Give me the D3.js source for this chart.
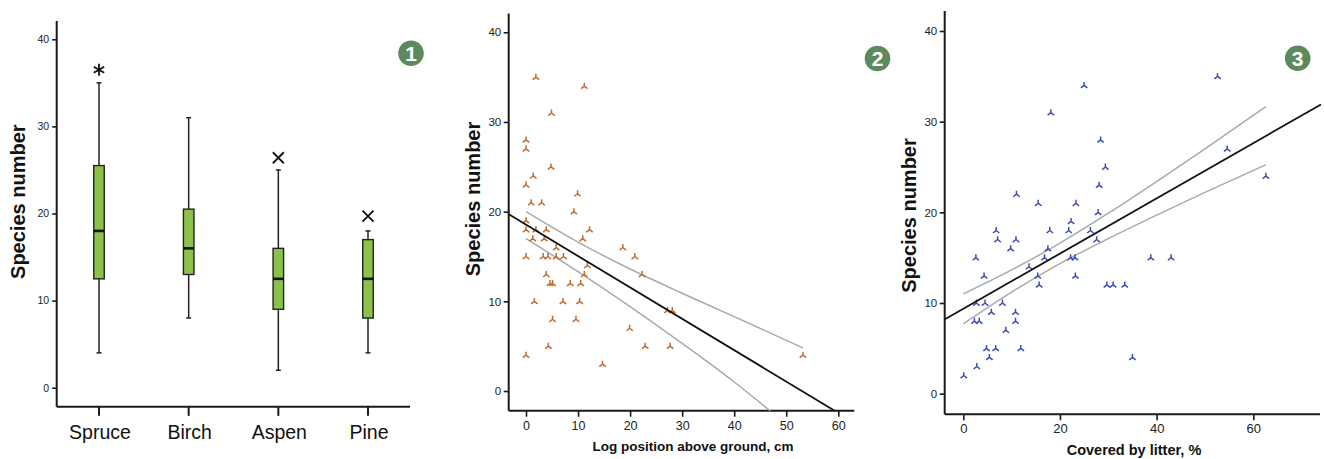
<!DOCTYPE html>
<html>
<head>
<meta charset="utf-8">
<script src="https://cdn.jsdelivr.net/npm/d3@7"></script>
<style>
  html, body { margin: 0; padding: 0; background: #fff; }
  svg { display: block; }
  text { font-family: "Liberation Sans", Arial, sans-serif; }
</style>
</head>
<body>
<svg id="chart" width="1324" height="459"></svg>
<script>
// ---------- DATA ----------
// Panel 1: box plots
const categories = ["Spruce", "Birch", "Aspen", "Pine"];
const whiskerLow  = [4, 8, 2, 4];
const q1          = [12.5, 13, 9, 8];
const median      = [18, 16, 12.5, 12.5];
const q3          = [25.5, 20.5, 16, 17];
const whiskerHigh = [35, 31, 25, 18];
const outlierCat  = ["Spruce", "Aspen", "Pine"];
const outlierVal  = [36.5, 26.4, 19.7];
const outlierType = ["extreme", "outlier", "outlier"];

// Panel 2: log position above ground vs species number
const logPosX = [1.9, 11.2, 4.9, 0, 0, 4.8, 1.4, 0, 9.9, 1.0, 3.0, 9.2, 0, 0, 1.9, 3.9, 12.2, 1.3, 3.5, 10.9,
                 5.8, 18.6, 0, 3.3, 4.2, 5.8, 7.2, 20.9, 11.8, 3.9, 11.2, 22.3, 4.6, 5.1, 8.5, 10.5, 1.6, 7.1, 10.3, 27.2,
                 28.1, 5.1, 9.6, 19.9, 4.3, 22.9, 27.7, 0, 53.2, 14.7];
const logPosY = [35, 34, 31, 28, 27, 25, 24, 23, 22, 21, 21, 20, 19, 18, 18, 18, 18, 17, 17, 17,
                 16, 16, 15, 15, 15, 15, 15, 15, 14, 13, 13, 13, 12, 12, 12, 12, 10, 10, 10, 9,
                 9, 8, 8, 7, 5, 5, 5, 4, 4, 3];
const logPosFit   = [[-3.3, 19.7], [59.3, -2.2]];
const logPosUpper = [[0, 20.0], [10, 16.6], [20, 13.6], [30, 10.9], [40, 8.3], [53.2, 4.8]];
const logPosLower = [[0, 17.0], [10, 13.3], [20, 9.4], [30, 5.3], [40, 1.0], [46.9, -2.2]];

// Panel 3: covered by litter vs species number
const litterX = [52.6, 25.0, 18.1, 28.4, 54.6, 29.4, 62.6, 28.1, 11.0, 15.5, 23.3, 27.9, 22.3, 6.8, 17.9, 21.8, 26.3, 7.1, 10.9, 27.6,
                 9.8, 17.5, 2.6, 16.8, 22.2, 23.1, 38.8, 43.0, 13.6, 4.3, 15.4, 23.2, 15.7, 29.7, 31.0, 33.4, 2.7, 4.5, 8.1, 5.8,
                 10.8, 2.3, 3.3, 10.8, 8.8, 4.8, 6.7, 11.9, 5.4, 35.0, 2.8, 0.1];
const litterY = [35, 34, 31, 28, 27, 25, 24, 23, 22, 21, 21, 20, 19, 18, 18, 18, 18, 17, 17, 17,
                 16, 16, 15, 15, 15, 15, 15, 15, 14, 13, 13, 13, 12, 12, 12, 12, 10, 10, 10, 9,
                 9, 8, 8, 8, 7, 5, 5, 5, 4, 4, 3, 2];
const litterFit   = [[-3.8, 8.2], [74, 31.9]];
const litterUpper = [[0, 11.0], [10, 13.65], [20, 16.6], [30, 19.9], [40, 23.4], [50, 27.0], [62.6, 31.65]];
const litterLower = [[0, 7.7], [10, 11.2], [20, 14.35], [30, 17.1], [40, 19.7], [50, 22.2], [62.6, 25.25]];

// Tick labels
const yTicks = [0, 10, 20, 30, 40];
const xTicks2 = [0, 10, 20, 30, 40, 50, 60];
const xTicks3 = [0, 20, 40, 60];

const yTitle = "Species number";
const xTitle2 = "Log position above ground, cm";
const xTitle3 = "Covered by litter, %";
const badges = ["1", "2", "3"];

// ---------- DRAW ----------
const svg = d3.select("#chart");
const FONT = '"Liberation Sans", Arial, sans-serif';
const AX = "#1a1a1a";
const GREEN = "#8bc34a";
const BADGE = "#5c8a5c";
const ORANGE = "#c46a2a";
const BLUE = "#3a4db5";
const GRAY = "#a9a9a9";

function triPath(s) {
  return `M0,${-s} L0,0.3 M0,0 L${-s * 0.95},${s * 0.75} M0,0 L${s * 0.95},${s * 0.75}`;
}

function yAxis(g, y, xPos, ext, fontSize, tickLen, pad) {
  const ax = d3.axisLeft(y).tickValues(yTicks).tickSize(tickLen).tickPadding(pad).tickFormat(d3.format("d"));
  const gg = g.append("g").attr("transform", `translate(${xPos},0)`).call(ax);
  gg.select(".domain").remove();
  gg.selectAll(".tick line").attr("stroke", AX).attr("stroke-width", 1.6);
  gg.selectAll(".tick text").attr("font-family", FONT).attr("font-size", fontSize).attr("fill", "#222");
  g.append("line").attr("x1", xPos).attr("x2", xPos).attr("y1", y(ext[0])).attr("y2", y(ext[1]))
    .attr("stroke", AX).attr("stroke-width", 2);
}

function badge(cx, cy, label) {
  svg.append("circle").attr("cx", cx).attr("cy", cy).attr("r", 12.8).attr("fill", BADGE);
  svg.append("text").attr("x", cx).attr("y", cy + 7.5).attr("text-anchor", "middle")
    .attr("font-family", '"DejaVu Sans", sans-serif').attr("font-weight", "bold")
    .attr("font-size", 21).attr("fill", "#fff").text(label);
}

function yTitleText(cx, cy) {
  svg.append("text").attr("transform", `translate(${cx},${cy}) rotate(-90)`)
    .attr("text-anchor", "middle").attr("dominant-baseline", "central")
    .attr("font-family", FONT).attr("font-weight", "bold").attr("font-size", 20).attr("fill", "#111")
    .text(yTitle);
}

// ----- Panel 1 -----
{
  const g = svg.append("g");
  const y = d3.scaleLinear().domain([0, 40]).range([387.7, 39.3]);
  const x = d3.scalePoint().domain(categories).range([99, 368]);
  const axisX = 56.7;
  yAxis(g, y, axisX, [-2.2, 42.1], 10.5, 4.5, 3);
  g.append("line").attr("x1", axisX).attr("x2", 410).attr("y1", y(-2.2)).attr("y2", y(-2.2))
    .attr("stroke", AX).attr("stroke-width", 2);
  categories.forEach((c) => {
    g.append("line").attr("x1", x(c)).attr("x2", x(c)).attr("y1", y(-2.2)).attr("y2", y(-2.2) + 9)
      .attr("stroke", AX).attr("stroke-width", 2);
    g.append("text").attr("x", x(c) + 1).attr("y", 438.5).attr("text-anchor", "middle")
      .attr("font-family", FONT).attr("font-size", 19.5).attr("fill", "#111").text(c);
  });
  const bw = 10.5, cap = 5;
  categories.forEach((c, i) => {
    const cx = x(c);
    g.append("line").attr("x1", cx).attr("x2", cx).attr("y1", y(whiskerLow[i])).attr("y2", y(whiskerHigh[i]))
      .attr("stroke", "#222").attr("stroke-width", 1.5);
    [whiskerLow[i], whiskerHigh[i]].forEach(v => {
      g.append("line").attr("x1", cx - cap / 2).attr("x2", cx + cap / 2).attr("y1", y(v)).attr("y2", y(v))
        .attr("stroke", "#222").attr("stroke-width", 1.5);
    });
    g.append("rect").attr("x", cx - bw / 2).attr("width", bw).attr("y", y(q3[i])).attr("height", y(q1[i]) - y(q3[i]))
      .attr("fill", GREEN).attr("stroke", "#222").attr("stroke-width", 1.4);
    g.append("line").attr("x1", cx - bw / 2).attr("x2", cx + bw / 2).attr("y1", y(median[i])).attr("y2", y(median[i]))
      .attr("stroke", "#111").attr("stroke-width", 2.6);
  });
  outlierCat.forEach((c, i) => {
    const cx = x(c), cy = y(outlierVal[i]);
    if (outlierType[i] === "extreme") {
      const r = 6;
      let p = "";
      for (let k = 0; k < 3; k++) {
        const a = Math.PI / 2 + k * Math.PI / 3;
        p += `M${cx - r * Math.cos(a)},${cy - r * Math.sin(a)}L${cx + r * Math.cos(a)},${cy + r * Math.sin(a)}`;
      }
      g.append("path").attr("d", p).attr("stroke", "#111").attr("stroke-width", 1.8).attr("fill", "none");
    } else {
      const r = 5.5;
      g.append("path").attr("d", `M${cx - r},${cy - r}L${cx + r},${cy + r}M${cx - r},${cy + r}L${cx + r},${cy - r}`)
        .attr("stroke", "#111").attr("stroke-width", 1.8).attr("fill", "none");
    }
  });
  yTitleText(18.3, 201.7);
  badge(411, 53.3, badges[0]);
}

// ----- scatter helper -----
function scatterPanel(opt) {
  const g = svg.append("g");
  const { x, y } = opt;
  yAxis(g, y, opt.axisX, opt.yExt, opt.yFont, 5, 2.5);
  const bottom = y(opt.yExt[0]);
  g.append("line").attr("x1", opt.axisX).attr("x2", opt.xEnd).attr("y1", bottom).attr("y2", bottom)
    .attr("stroke", AX).attr("stroke-width", 2);
  const ax = d3.axisBottom(x).tickValues(opt.xTicks).tickSize(6).tickPadding(opt.xPad).tickFormat(d3.format("d"));
  const gx = g.append("g").attr("transform", `translate(0,${bottom})`).call(ax);
  gx.select(".domain").remove();
  gx.selectAll(".tick line").attr("stroke", AX).attr("stroke-width", 1.6);
  gx.selectAll(".tick text").attr("font-family", FONT).attr("font-size", opt.xFont).attr("fill", "#222");

  const line = d3.line().x(d => x(d[0])).y(d => y(d[1]));
  const curve = d3.line().x(d => x(d[0])).y(d => y(d[1])).curve(d3.curveMonotoneX);
  g.append("path").attr("d", curve(opt.upper)).attr("fill", "none").attr("stroke", GRAY).attr("stroke-width", 1.5);
  g.append("path").attr("d", curve(opt.lower)).attr("fill", "none").attr("stroke", GRAY).attr("stroke-width", 1.5);

  opt.xs.forEach((xv, i) => {
    g.append("path").attr("d", triPath(3.4)).attr("transform", `translate(${x(xv)},${y(opt.ys[i])})`)
      .attr("fill", "none").attr("stroke", opt.color).attr("stroke-width", 1.5);
  });
  g.append("path").attr("d", line(opt.fit)).attr("fill", "none").attr("stroke", "#111").attr("stroke-width", 1.8);

  g.append("text").attr("x", opt.xTitleX).attr("y", opt.xTitleY).attr("text-anchor", "middle")
    .attr("font-family", FONT).attr("font-weight", "bold").attr("font-size", opt.xTitleFont).attr("fill", "#111")
    .text(opt.xTitle);
}

// ----- Panel 2 -----
scatterPanel({
  x: d3.scaleLinear().domain([0, 60]).range([526, 838.3]),
  y: d3.scaleLinear().domain([0, 40]).range([391, 32.3]),
  axisX: 508.7, yExt: [-2.2, 42.1], xEnd: 854.3, yFont: 11.5, xFont: 12.5, xPad: 4,
  xTicks: xTicks2, xs: logPosX, ys: logPosY, fit: logPosFit, upper: logPosUpper, lower: logPosLower,
  color: ORANGE, xTitle: xTitle2, xTitleX: 693, xTitleY: 450.5, xTitleFont: 13.5
});
yTitleText(473.3, 199);
badge(877.5, 58.5, badges[1]);

// ----- Panel 3 -----
scatterPanel({
  x: d3.scaleLinear().domain([0, 60]).range([963.3, 1253.3]),
  y: d3.scaleLinear().domain([10, 40]).range([303, 31]),
  axisX: 944.7, yExt: [-2.28, 42.2], xEnd: 1320, yFont: 11.5, xFont: 13, xPad: 3.5,
  xTicks: xTicks3, xs: litterX, ys: litterY, fit: litterFit, upper: litterUpper, lower: litterLower,
  color: BLUE, xTitle: xTitle3, xTitleX: 1134, xTitleY: 455, xTitleFont: 14.5
});
yTitleText(909, 215.5);
badge(1297.7, 58.3, badges[2]);
</script>
</body>
</html>
